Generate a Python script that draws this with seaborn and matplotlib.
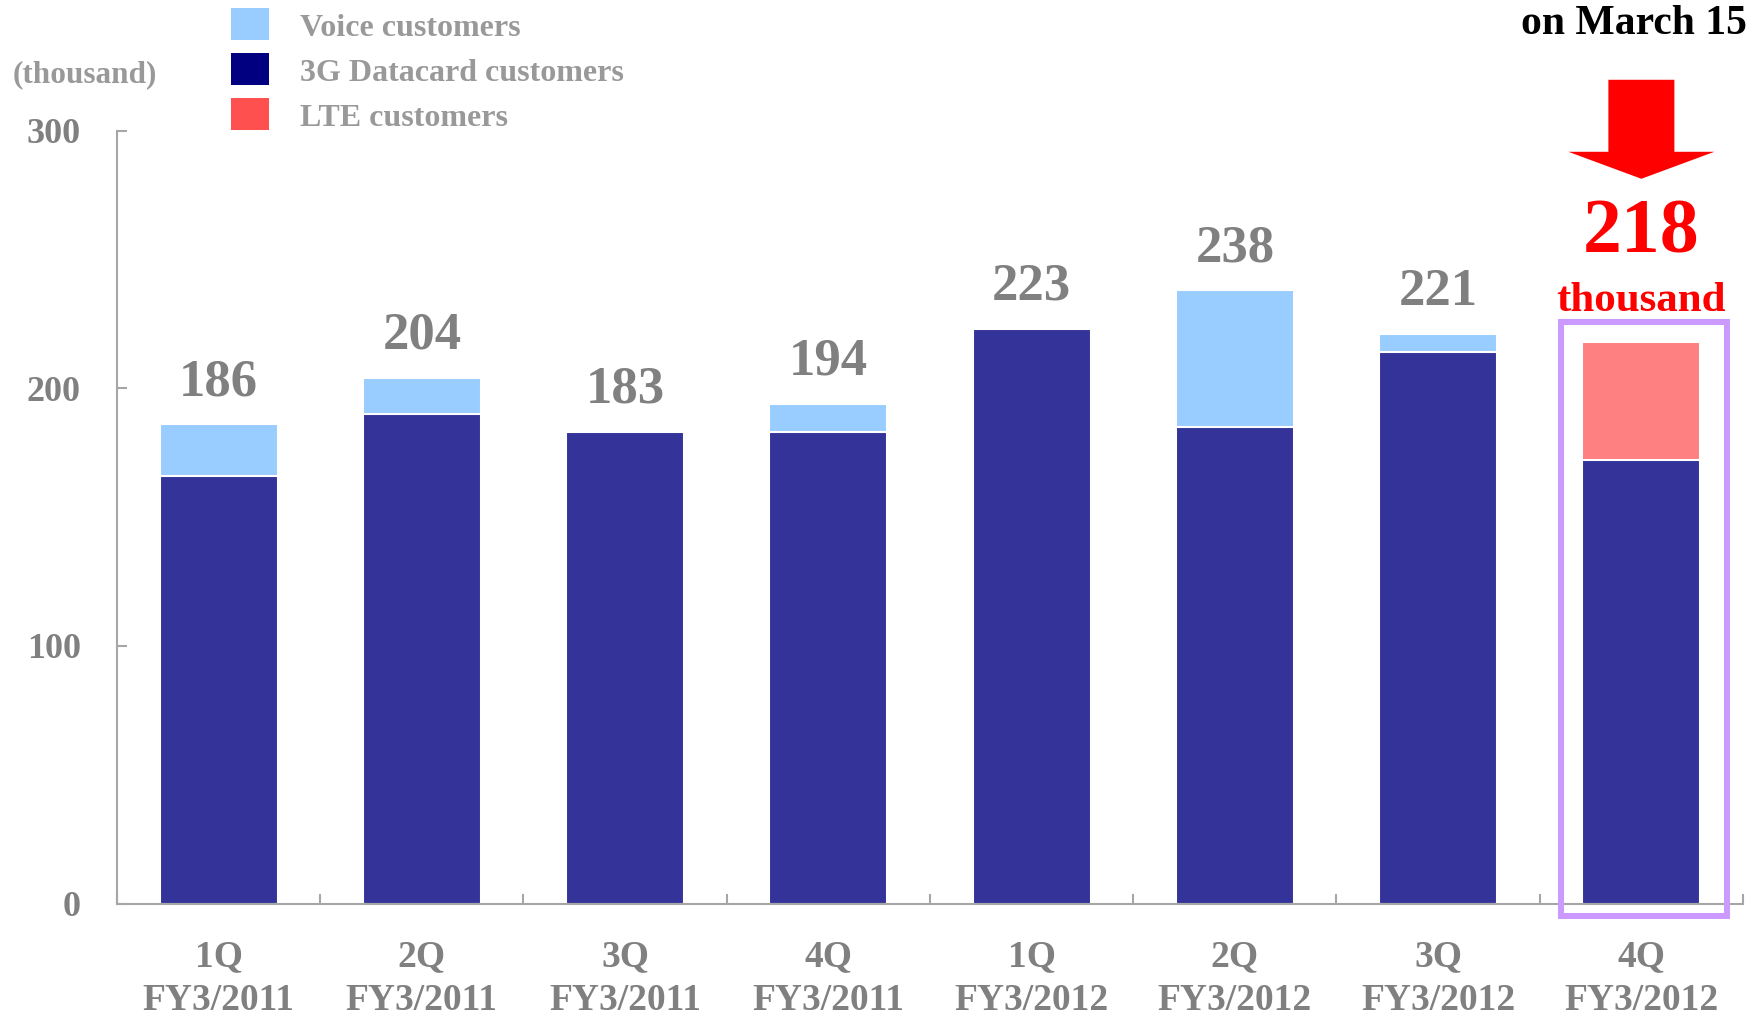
import matplotlib
matplotlib.use("Agg")
import matplotlib.pyplot as plt
from matplotlib.patches import Rectangle, Polygon
from matplotlib.transforms import IdentityTransform
import seaborn as sns
import pandas as pd
import numpy as np

# Subscribers per quarter (thousand)
quarters = ["1Q", "2Q", "3Q", "4Q", "1Q", "2Q", "3Q", "4Q"]
fiscal_years = ["FY3/2011"] * 4 + ["FY3/2012"] * 4
datacard = [166, 190, 183, 183, 223, 185, 214, 172]
voice = [20, 14, 0, 11, 0, 53, 7, 0]
lte = [0, 0, 0, 0, 0, 0, 0, 46]
totals = [186, 204, 183, 194, 223, 238, 221, 218]
y_ticks = [0, 100, 200, 300]

W, H, DPI = 1749, 1024, 100
GRAY_TEXT = "#808080"
LIGHT_TEXT = "#999999"
AXIS_GRAY = "#A6A6A6"
C_DATACARD = "#333399"
C_VOICE = "#99CCFF"
C_LTE = "#FF8080"

sns.set_theme(style="white")
plt.rcParams["font.family"] = ["Liberation Serif", "DejaVu Serif"]
plt.rcParams["font.weight"] = "bold"

labels = [f"{q}\n{fy}" for q, fy in zip(quarters, fiscal_years)]
df = pd.DataFrame({"period": labels, "datacard": datacard,
                   "voice": voice, "lte": lte})
df["stack_top"] = df["datacard"] + df["voice"] + df["lte"]
top_colors = [C_VOICE if l == 0 else C_LTE for l in lte]

fig = plt.figure(figsize=(W / DPI, H / DPI), dpi=DPI)
ax = fig.add_axes([117 / W, 1 - 903.5 / H, (1743 - 117) / W, (903.5 - 130.5) / H])

bar_w = 0.58
# full stack height, coloured by the upper segment
sns.barplot(data=df, x="period", y="stack_top", hue="period", palette=top_colors,
            legend=False, width=bar_w, edgecolor="white", linewidth=1.5,
            saturation=1, errorbar=None, ax=ax)
# datacard segment on the bottom
sns.barplot(data=df, x="period", y="datacard", color=C_DATACARD,
            width=bar_w, edgecolor="white", linewidth=1.5,
            saturation=1, errorbar=None, ax=ax)

ax.set_xlim(-0.5, len(labels) - 0.5)
ax.set_ylim(0, 300)
ax.set_xlabel("")
ax.set_ylabel("")

for side in ["top", "right"]:
    ax.spines[side].set_visible(False)
for side in ["left", "bottom"]:
    ax.spines[side].set_color(AXIS_GRAY)
    ax.spines[side].set_linewidth(1.5)

ax.set_yticks(y_ticks)
ax.set_yticklabels([str(v) for v in y_ticks])
ax.tick_params(axis="y", direction="in", length=7, width=1.5, color=AXIS_GRAY,
               pad=26, labelsize=26, labelcolor=GRAY_TEXT, left=True)
for t in ax.get_yticklabels():
    t.set_fontweight("bold")

ax.set_xticks(range(len(labels)))
ax.set_xticklabels(labels, linespacing=1.3)
ax.set_xticks(np.arange(-0.5, len(labels), 1.0), minor=True)
ax.tick_params(axis="x", which="major", length=0, pad=26, labelsize=27,
               labelcolor=GRAY_TEXT)
ax.tick_params(axis="x", which="minor", direction="in", length=7, width=1.5,
               color=AXIS_GRAY, bottom=True)
for t in ax.get_xticklabels():
    t.set_fontweight("bold")

# totals above each bar
for i, t in enumerate(totals[:-1]):
    ax.annotate(str(t), (i, t), xytext=(0, 21), textcoords="offset points",
                ha="center", va="baseline", fontsize=38, fontweight="bold",
                color=GRAY_TEXT)

# highlighted latest quarter
last = len(totals) - 1
ax.annotate(str(totals[last]), (last, totals[last]), xytext=(0, 64),
            textcoords="offset points", ha="center", va="baseline",
            fontsize=56, fontweight="bold", color="#FF0000",
            annotation_clip=False)
ax.annotate("thousand", (last, totals[last]), xytext=(0, 22),
            textcoords="offset points", ha="center", va="baseline",
            fontsize=31, fontweight="bold", color="#FF0000",
            annotation_clip=False)

cx, top_y = ax.transData.transform((last, totals[last]))
_, base_y = ax.transData.transform((last, 0))
arrow = Polygon([(cx - 33, top_y + 262), (cx + 33, top_y + 262),
                 (cx + 33, top_y + 190), (cx + 73, top_y + 190),
                 (cx, top_y + 163), (cx - 73, top_y + 190),
                 (cx - 33, top_y + 190)],
                closed=True, facecolor="#FF0000", edgecolor="none",
                transform=IdentityTransform(), clip_on=False)
fig.patches.append(arrow)

frame = Rectangle((cx - 80, base_y - 12.5), 166, (top_y + 20) - (base_y - 12.5),
                  fill=False, edgecolor="#CC99FF", linewidth=4.3,
                  transform=IdentityTransform(), clip_on=False)
fig.patches.append(frame)

fig.text(1747 / W, 1 - 34 / H, "on March 15", ha="right", va="baseline",
         fontsize=30, fontweight="bold", color="black")

# unit label and legend
fig.text(13 / W, 1 - 75 / H, "(thousand)", ha="left", va="center",
         fontsize=22.5, fontweight="bold", color=LIGHT_TEXT)

legend_items = [("Voice customers", "#99CCFF", 24),
                ("3G Datacard customers", "#000080", 68.5),
                ("LTE customers", "#FF5050", 114)]
for text, color, yc in legend_items:
    fig.patches.append(Rectangle((231 / W, 1 - (yc + 16) / H), 38 / W, 32 / H,
                                 transform=fig.transFigure, facecolor=color,
                                 edgecolor="none"))
    fig.text(300 / W, 1 - (yc + 5) / H, text, ha="left", va="center",
             fontsize=23, fontweight="bold", color=LIGHT_TEXT)

fig.savefig("out.png", dpi=DPI, facecolor="white")
